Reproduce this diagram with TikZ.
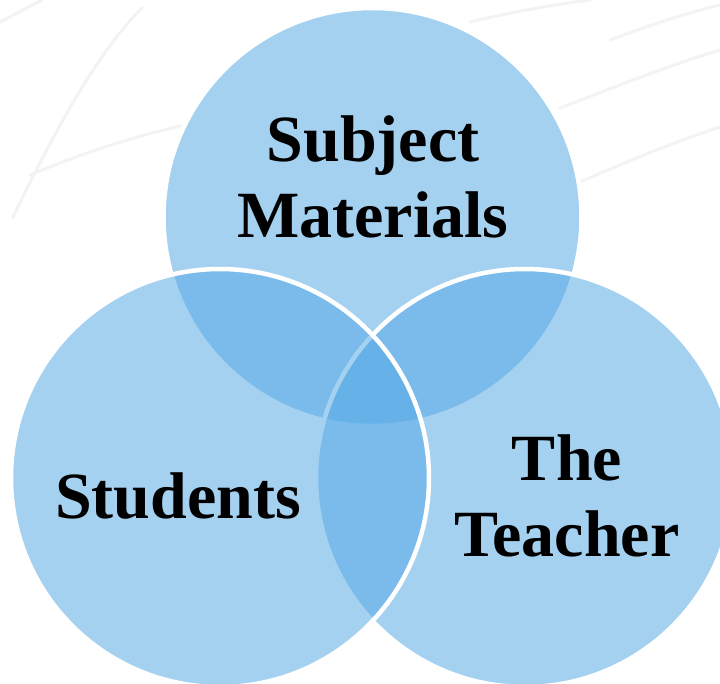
\documentclass[tikz,border=0pt]{standalone}
\usepackage{fontspec}
\setmainfont{Liberation Serif}
\definecolor{vennblue}{RGB}{83,168,230}
\definecolor{streak}{RGB}{243,243,243}
\begin{document}
\begin{tikzpicture}[x=1pt,y=-1pt,
  venn/.style={circle, inner sep=0pt, minimum size=418pt, fill=vennblue, fill opacity=0.52, draw=white, line width=4.5pt},
  lbl/.style={font=\bfseries\fontsize{66}{76}\selectfont, align=center, inner sep=0pt, text=black},
  streakline/.style={draw=streak, line width=3pt, line cap=round}]
\useasboundingbox (0,0) rectangle (720,684);
\fill[white] (0,0) rectangle (720,684);
% faint background streaks
\draw[streakline] (13,217) .. controls (60,120) and (100,50) .. (142,8);
\draw[streakline] (30,175) .. controls (90,150) and (140,135) .. (185,125);
\draw[streakline] (0,22) -- (42,0);
\draw[streakline] (580,182) .. controls (630,160) and (680,140) .. (720,127);
\draw[streakline] (560,108) .. controls (620,85) and (670,65) .. (720,50);
\draw[streakline] (470,22) .. controls (520,10) and (560,4) .. (590,0);
\draw[streakline] (610,40) .. controls (650,25) and (690,12) .. (720,5);
% circles
\node[venn] (top) at (372.5,217) {};
\node[venn] (right) at (525,478) {};
\node[venn] (left) at (220,478) {};
% labels
\node[lbl] (subj) at (373,177.4) {Subject\\Materials};
\node[lbl, anchor=base] (stud) at (178,518.3) {Students};
\node[lbl] (teach) at (567,496.2) {The\\Teacher};
\end{tikzpicture}
\end{document}
